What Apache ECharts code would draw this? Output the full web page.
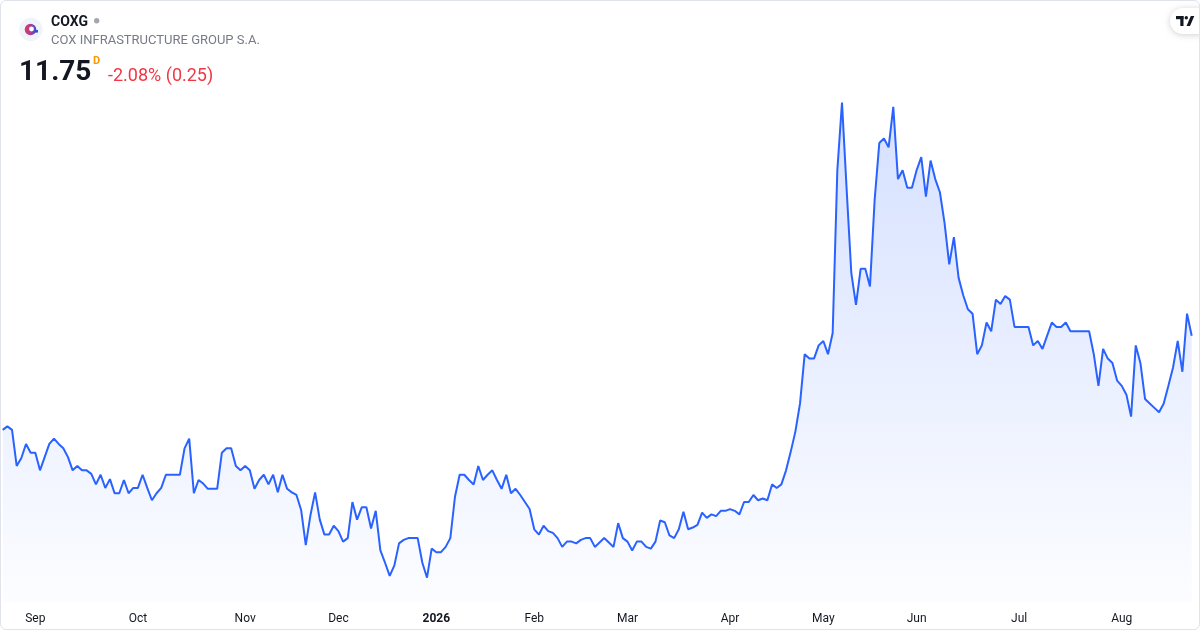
<!DOCTYPE html>
<html>
<head>
<meta charset="utf-8">
<script src="https://cdn.jsdelivr.net/npm/echarts@6/dist/echarts.min.js"></script>
<style>
  html, body { margin: 0; padding: 0; background: #ffffff; }
  #wrap { position: relative; width: 1200px; height: 630px; }
  #chart { position: absolute; left: 0; top: 0; width: 1200px; height: 630px; }
  #frame { position: absolute; left: 0; top: 0; width: 1200px; height: 630px; box-sizing: border-box;
           border: 1px solid #e0e3eb; border-radius: 6px; pointer-events: none; }
</style>
</head>
<body>
<div id="wrap"><div id="chart"></div><div id="frame"></div></div>
<script>
// ---- data (daily closes, one year) ----
const prices = [
  10.68,10.72,10.68,10.27,10.36,10.52,10.42,10.42,10.22,10.37,
  10.52,10.58,10.52,10.47,10.37,10.22,10.27,10.22,10.22,10.18,
  10.06,10.17,10.02,10.12,9.96,9.96,10.11,9.96,10.02,10.02,
  10.17,10.02,9.88,9.96,10.02,10.17,10.17,10.17,10.17,10.47,
  10.58,9.96,10.11,10.07,10.01,10.01,10.01,10.42,10.47,10.47,
  10.27,10.22,10.27,10.22,10.01,10.11,10.17,10.06,10.17,9.97,
  10.17,10.01,9.97,9.94,9.77,9.37,9.71,9.97,9.66,9.49,
  9.49,9.59,9.53,9.41,9.45,9.86,9.66,9.80,9.80,9.56,
  9.76,9.31,9.17,9.02,9.14,9.39,9.43,9.45,9.45,9.45,
  9.17,9.00,9.33,9.29,9.29,9.35,9.45,9.92,10.17,10.17,
  10.11,10.06,10.27,10.11,10.17,10.22,10.11,10.01,10.17,9.96,
  10.01,9.94,9.86,9.78,9.55,9.49,9.59,9.53,9.51,9.45,
  9.35,9.41,9.41,9.39,9.43,9.45,9.45,9.35,9.40,9.45,
  9.40,9.35,9.62,9.45,9.41,9.31,9.41,9.41,9.35,9.33,
  9.41,9.65,9.63,9.48,9.45,9.55,9.75,9.55,9.57,9.60,
  9.74,9.68,9.72,9.70,9.76,9.76,9.78,9.76,9.72,9.86,
  9.86,9.94,9.88,9.90,9.88,10.06,10.02,10.06,10.22,10.43,
  10.66,10.98,11.54,11.49,11.49,11.64,11.69,11.54,11.78,13.63,
  14.40,13.41,12.46,12.10,12.51,12.51,12.31,13.29,13.94,13.99,
  13.89,14.35,13.53,13.63,13.43,13.43,13.63,13.78,13.33,13.74,
  13.53,13.38,13.03,12.56,12.87,12.41,12.21,12.05,12.00,11.54,
  11.64,11.90,11.80,12.16,12.11,12.20,12.16,11.85,11.85,11.85,
  11.85,11.64,11.69,11.60,11.75,11.90,11.85,11.85,11.90,11.80,
  11.80,11.80,11.80,11.80,11.54,11.18,11.60,11.49,11.44,11.24,
  11.18,11.08,10.83,11.64,11.44,11.03,10.98,10.93,10.88,10.98,
  11.18,11.39,11.69,11.34,12.00,11.75
];
const dayIndex = prices.map((_, i) => String(i));
const monthTickIndex = [7, 29, 52, 72, 93, 114, 134, 156, 176, 196, 218, 240];
const monthTickLabels = ['Sep', 'Oct', 'Nov', 'Dec', '2026', 'Feb', 'Mar', 'Apr', 'May', 'Jun', 'Jul', 'Aug'];
const yearLabels = ['2026'];

const ticker = 'COXG';
const companyName = 'COX INFRASTRUCTURE GROUP S.A.';
const lastPrice = '11.75';
const intervalMark = 'D';
const changeText = '-2.08% (0.25)';

// ---- chart ----
const FONT = 'Roboto, "Noto Sans", sans-serif';
const chart = echarts.init(document.getElementById('chart'), null, { renderer: 'canvas' });
const tickMap = {};
monthTickIndex.forEach((idx, k) => { tickMap[idx] = monthTickLabels[k]; });

chart.setOption({
  animation: false,
  backgroundColor: '#ffffff',
  grid: { left: 2.7, right: 8.3, top: 60, bottom: 27, containLabel: false },
  xAxis: {
    type: 'category',
    data: dayIndex,
    boundaryGap: false,
    axisLine: { show: false },
    axisTick: { show: false },
    splitLine: { show: false },
    axisLabel: {
      show: true,
      interval: (idx) => tickMap[idx] !== undefined,
      margin: 10,
      color: '#131722',
      fontFamily: FONT,
      fontSize: 12,
      formatter: (val) => {
        const t = tickMap[Number(val)];
        if (t === undefined) return '';
        return yearLabels.includes(t) ? '{b|' + t + '}' : t;
      },
      rich: { b: { fontWeight: 'bold', fontFamily: FONT, fontSize: 12, color: '#131722' } }
    }
  },
  yAxis: {
    type: 'value',
    min: 8.7125,
    max: 14.883,
    show: false,
    splitLine: { show: false }
  },
  series: [{
    type: 'line',
    data: prices,
    symbol: 'none',
    lineStyle: { color: '#2962FF', width: 2 },
    itemStyle: { color: '#2962FF' },
    areaStyle: {
      color: new echarts.graphic.LinearGradient(0, 0, 0, 1, [
        { offset: 0, color: 'rgba(41,98,255,0.28)' },
        { offset: 1, color: 'rgba(41,98,255,0.02)' }
      ])
    }
  }],
  graphic: [
    // logo
    { type: 'circle', shape: { cx: 30.7, cy: 29.5, r: 11.8 }, style: { fill: '#f0f3fa' } },
    { type: 'circle', shape: { cx: 30.5, cy: 29.5, r: 5.8 },
      style: { fill: new echarts.graphic.LinearGradient(0, 0, 1, 0, [
        { offset: 0, color: '#e8385a' }, { offset: 0.55, color: '#a43e9c' }, { offset: 1, color: '#3550d8' }]) } },
    { type: 'circle', shape: { cx: 31.5, cy: 29, r: 2.4 }, style: { fill: '#ffffff' } },
    { type: 'rect', shape: { x: 35, y: 30, width: 3, height: 2.6 }, style: { fill: '#2f4fd8' } },
    // ticker line
    { type: 'text', x: 51, y: 22, style: { text: ticker, font: 'bold 14px ' + FONT, fill: '#131722', verticalAlign: 'middle' } },
    { type: 'circle', shape: { cx: 96.7, cy: 20.7, r: 2.7 }, style: { fill: '#a3a6af' } },
    { type: 'text', x: 51, y: 41, style: { text: companyName, font: '13px ' + FONT, fill: '#787b86', verticalAlign: 'middle' } },
    // price line
    { type: 'text', x: 19, y: 72.5, style: { text: lastPrice, font: 'bold 28px ' + FONT, fill: '#131722', verticalAlign: 'middle' } },
    { type: 'text', x: 93, y: 61.5, style: { text: intervalMark, font: 'bold 11px ' + FONT, fill: '#ff9800', verticalAlign: 'middle' } },
    { type: 'text', x: 108, y: 76, style: { text: changeText, font: '18px ' + FONT, fill: '#f23645', verticalAlign: 'middle' } },
    // TradingView badge
    { type: 'rect', shape: { x: 1170, y: 8, width: 40, height: 26, r: 13 },
      style: { fill: '#ffffff', shadowBlur: 6, shadowColor: 'rgba(0,0,0,0.18)', shadowOffsetY: 1 } },
    { type: 'rect', shape: { x: 1176, y: 16, width: 7.5, height: 3.2 }, style: { fill: '#131722' } },
    { type: 'rect', shape: { x: 1180.3, y: 16, width: 3.2, height: 10 }, style: { fill: '#131722' } },
    { type: 'circle', shape: { cx: 1186.3, cy: 17.7, r: 1.7 }, style: { fill: '#131722' } },
    { type: 'polygon', shape: { points: [[1186.5, 26], [1190.8, 16], [1194.3, 16], [1190, 26]] }, style: { fill: '#131722' } }
  ]
});
</script>
</body>
</html>
